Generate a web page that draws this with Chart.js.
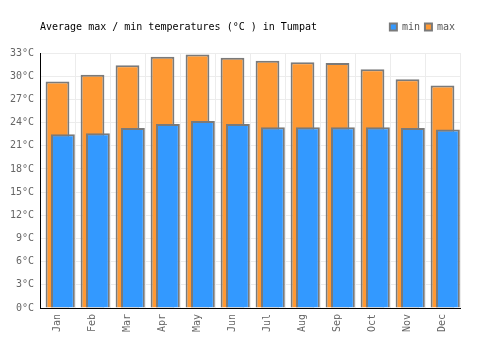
<!DOCTYPE html>
<html>
<head>
<meta charset="utf-8">
<script src="https://cdn.jsdelivr.net/npm/chart.js@4/dist/chart.umd.min.js"></script>
<style>
  html, body { margin: 0; padding: 0; background: #fff; }
  #wrap { width: 500px; height: 350px; }
</style>
</head>
<body>
<div id="wrap"><canvas id="tempChart" width="500" height="350"></canvas></div>
<script>
var months = ["Jan", "Feb", "Mar", "Apr", "May", "Jun", "Jul", "Aug", "Sep", "Oct", "Nov", "Dec"];
var minTemps = [22.5, 22.6, 23.3, 23.8, 24.2, 23.8, 23.4, 23.4, 23.4, 23.4, 23.3, 23.1];
var maxTemps = [29.3, 30.2, 31.4, 32.5, 32.8, 32.4, 32.0, 31.8, 31.7, 30.9, 29.6, 28.8];
var chartTitle = "Average max / min temperatures (°C ) in Tumpat";

var monoFont = "'DejaVu Sans Mono', 'Liberation Mono', monospace";

// min bars sit a little to the right of the max bars
var shiftMinBars = {
    id: 'shiftMinBars',
    afterDatasetsUpdate: function (chart) {
        var xScale = chart.scales.x;
        var step = (xScale.right - xScale.left) / months.length;
        chart.getDatasetMeta(0).data.forEach(function (bar) {
            bar.x = bar.x + step * 0.155;
        });
    }
};

var titleLeft = {
    id: 'titleLeft',
    afterDraw: function (chart) {
        var ctx = chart.ctx;
        ctx.save();
        ctx.font = "10px " + monoFont;
        ctx.fillStyle = '#000';
        ctx.textBaseline = 'middle';
        ctx.textAlign = 'left';
        ctx.fillText(chartTitle, chart.chartArea.left, 27);
        ctx.restore();
    }
};

var tempCanvas = document.getElementById("tempChart");
var tempChart = new Chart(tempCanvas, {
    type: 'bar',
    data: {
        labels: months,
        datasets: [{
                label: 'min',
                data: minTemps,
                backgroundColor: '#3399ff',
                borderColor: '#7a7a7a',
                borderWidth: 2,
                grouped: false,
                order: 0
            }, {
                label: 'max',
                data: maxTemps,
                backgroundColor: '#ff9933',
                borderColor: '#7a7a7a',
                borderWidth: 2,
                grouped: false,
                order: 1
            }]
    },
    options: {
        responsive: false,
        animation: false,
        events: [],
        categoryPercentage: 1,
        barPercentage: 0.68,
        layout: {
            padding: { left: 0, right: 40, top: 17, bottom: 0 }
        },
        plugins: {
            title: { display: false },
            tooltip: { enabled: false },
            legend: {
                position: 'top',
                align: 'end',
                labels: {
                    boxWidth: 7,
                    boxHeight: 7,
                    padding: 5,
                    color: '#555',
                    font: { family: monoFont, size: 10 }
                }
            }
        },
        scales: {
            x: {
                grid: { color: '#ececec', drawTicks: false, offset: true },
                border: { color: '#000', width: 1 },
                ticks: {
                    color: '#666',
                    font: { family: monoFont, size: 10 },
                    minRotation: 90,
                    maxRotation: 90,
                    padding: 6
                },
                afterFit: function (scale) { scale.height = 42; }
            },
            // empty top axis, only keeps a gap under the legend
            xTop: {
                type: 'category',
                position: 'top',
                grid: { display: false },
                border: { display: false },
                ticks: { display: false },
                afterFit: function (scale) { scale.height = 11; }
            },
            y: {
                min: 0,
                max: 33,
                grid: { color: '#ececec', drawTicks: false },
                border: { color: '#000', width: 1 },
                ticks: {
                    stepSize: 3,
                    color: '#666',
                    padding: 6,
                    font: { family: monoFont, size: 10 },
                    callback: function (v) { return v + '°C'; }
                },
                afterFit: function (scale) { scale.width = 40; }
            }
        }
    },
    plugins: [shiftMinBars, titleLeft]
});
</script>
</body>
</html>
